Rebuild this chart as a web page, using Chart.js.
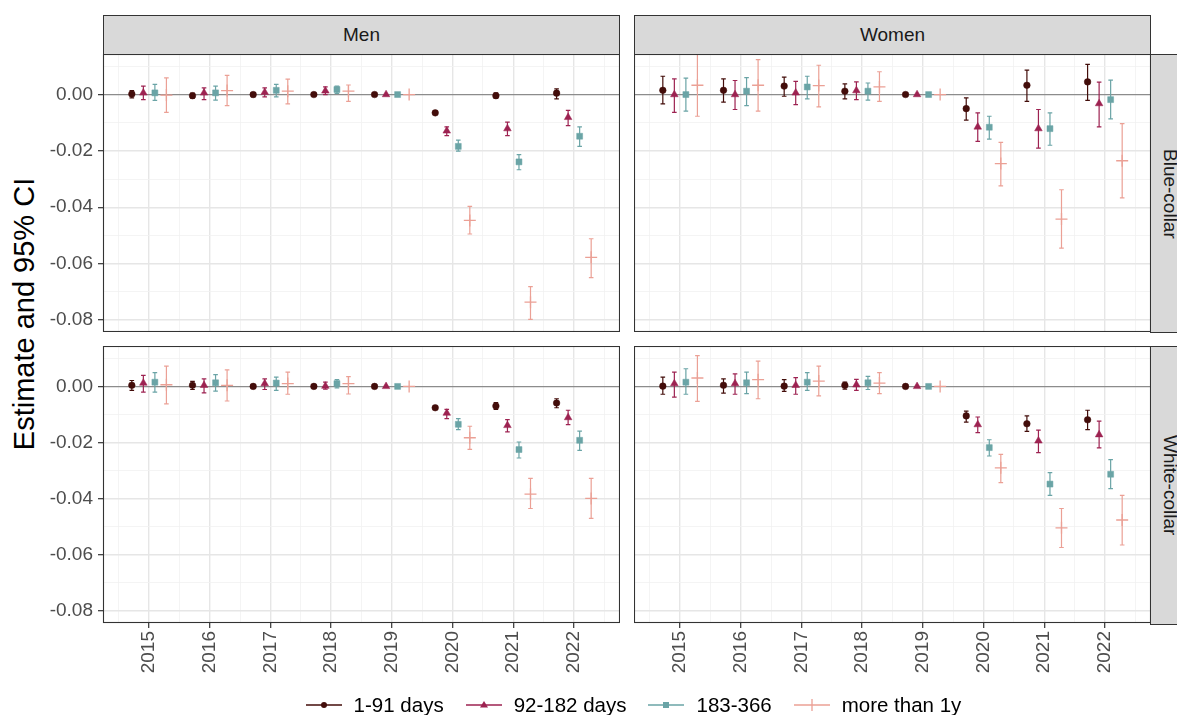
<!DOCTYPE html>
<html>
<head>
<meta charset="utf-8">
<script src="https://cdn.jsdelivr.net/npm/chart.js@4.4.1/dist/chart.umd.min.js"></script>
<style>
  html, body { margin:0; padding:0; background:#fff; }
  #wrap { position:relative; width:1177px; height:715px; overflow:hidden; font-family:'Liberation Sans', Arial, sans-serif; }
  canvas { position:absolute; }
  .strip { position:absolute; box-sizing:border-box; background:#d9d9d9; border:1px solid #333; color:#1a1a1a; font-size:19px; display:flex; align-items:center; justify-content:center; }
  .vstrip { writing-mode:vertical-rl; }
  #ytitle { position:absolute; left:24px; top:314px; transform:translate(-50%,-50%) rotate(-90deg); white-space:nowrap; font-size:29px; color:#000; }
  #legend { position:absolute; left:0; top:693px; width:1177px; height:24px; display:flex; justify-content:center; align-items:center; transform:translateX(45px); font-size:20.5px; color:#000; }
  .item { display:flex; align-items:center; margin-right:22px; }
  .item:last-child { margin-right:0; }
  .item svg { margin-right:12px; }
</style>
</head>
<body>
<div id="wrap">
  <div id="ytitle">Estimate and 95% CI</div>
  <div class="strip" id="s_men" style="left:103px; top:15px; width:517px; height:40px;"></div>
  <div class="strip" id="s_women" style="left:634px; top:15px; width:517px; height:40px;"></div>
  <div class="strip vstrip" id="s_blue" style="left:1150px; top:54px; width:40px; height:279px;"></div>
  <div class="strip vstrip" id="s_white" style="left:1150px; top:346px; width:40px; height:279px;"></div>
  <canvas id="c_mb" width="620" height="278" style="left:0; top:54px;"></canvas>
  <canvas id="c_wb" width="517" height="278" style="left:634px; top:54px;"></canvas>
  <canvas id="c_mw" width="620" height="369" style="left:0; top:346px;"></canvas>
  <canvas id="c_ww" width="517" height="369" style="left:634px; top:346px;"></canvas>
  <div id="legend"></div>
</div>
<script>
// ---------------- data ----------------
const years = [2015, 2016, 2017, 2018, 2019, 2020, 2021, 2022];
const seriesNames = ['1-91 days', '92-182 days', '183-366', 'more than 1y'];
const colLabels = ['Men', 'Women'];
const rowLabels = ['Blue-collar', 'White-collar'];
const yTickValues = [-0.08, -0.07, -0.06, -0.05, -0.04, -0.03, -0.02, -0.01, 0, 0.01];
const xTickValues = [2014.5, 2015, 2015.5, 2016, 2016.5, 2017, 2017.5, 2018, 2018.5, 2019, 2019.5, 2020, 2020.5, 2021, 2021.5, 2022, 2022.5];

// Men, Blue-collar  (rows: 1-91 days, 92-182 days, 183-366, more than 1y)
const menBlueEst = [
  [0.0002, -0.0004, 0.0000, 0.0000, 0, -0.0065, -0.0004, 0.0005],
  [0.0006, 0.0006, 0.0008, 0.0013, 0, -0.0129, -0.0121, -0.0081],
  [0.0006, 0.0006, 0.0015, 0.0018, 0, -0.0184, -0.0239, -0.0148],
  [-0.0002, 0.0014, 0.0012, 0.0012, 0, -0.0447, -0.0737, -0.0578]
];
const menBlueLo = [
  [-0.0012, -0.0013, -0.0008, -0.0004, null, -0.0071, -0.0013, -0.0015],
  [-0.0018, -0.0018, -0.0008, 0.0000, null, -0.0146, -0.0146, -0.0110],
  [-0.0021, -0.0020, -0.0008, 0.0004, null, -0.0201, -0.0267, -0.0184],
  [-0.0063, -0.0039, -0.0033, -0.0024, null, -0.0495, -0.0798, -0.0650]
];
const menBlueHi = [
  [0.0014, 0.0005, 0.0007, 0.0004, null, -0.0059, 0.0006, 0.0020],
  [0.0030, 0.0024, 0.0024, 0.0027, null, -0.0115, -0.0098, -0.0056],
  [0.0036, 0.0030, 0.0036, 0.0030, null, -0.0162, -0.0213, -0.0115],
  [0.0059, 0.0068, 0.0055, 0.0034, null, -0.0397, -0.0682, -0.0512]
];

// Women, Blue-collar
const womenBlueEst = [
  [0.0015, 0.0015, 0.0030, 0.0012, 0, -0.0050, 0.0033, 0.0045],
  [0.0000, 0.0000, 0.0006, 0.0014, 0, -0.0115, -0.0121, -0.0032],
  [0.0000, 0.0012, 0.0027, 0.0012, 0, -0.0116, -0.0121, -0.0018],
  [0.0033, 0.0033, 0.0032, 0.0027, 0, -0.0245, -0.0442, -0.0235]
];
const womenBlueLo = [
  [-0.0033, -0.0027, -0.0006, -0.0015, null, -0.0091, -0.0024, -0.0021],
  [-0.0063, -0.0053, -0.0036, -0.0018, null, -0.0166, -0.0190, -0.0115],
  [-0.0059, -0.0039, -0.0015, -0.0020, null, -0.0158, -0.0180, -0.0086],
  [-0.0077, -0.0059, -0.0044, -0.0024, null, -0.0324, -0.0545, -0.0367]
];
const womenBlueHi = [
  [0.0065, 0.0056, 0.0062, 0.0038, null, -0.0012, 0.0087, 0.0107],
  [0.0056, 0.0050, 0.0047, 0.0045, null, -0.0065, -0.0053, 0.0044],
  [0.0058, 0.0060, 0.0065, 0.0041, null, -0.0077, -0.0065, 0.0051],
  [0.0143, 0.0124, 0.0104, 0.0081, null, -0.0170, -0.0338, -0.0103]
];

// Men, White-collar
const menWhiteEst = [
  [0.0004, 0.0004, 0.0000, 0.0000, 0, -0.0076, -0.0070, -0.0059],
  [0.0012, 0.0004, 0.0010, 0.0001, 0, -0.0095, -0.0139, -0.0111],
  [0.0015, 0.0013, 0.0012, 0.0010, 0, -0.0135, -0.0225, -0.0192],
  [0.0006, 0.0004, 0.0010, 0.0010, 0, -0.0183, -0.0384, -0.0399]
];
const menWhiteLo = [
  [-0.0014, -0.0011, -0.0006, -0.0003, null, -0.0081, -0.0082, -0.0076],
  [-0.0020, -0.0023, -0.0011, -0.0010, null, -0.0115, -0.0162, -0.0136],
  [-0.0020, -0.0017, -0.0014, -0.0005, null, -0.0154, -0.0255, -0.0228],
  [-0.0062, -0.0052, -0.0028, -0.0027, null, -0.0224, -0.0435, -0.0470]
];
const menWhiteHi = [
  [0.0021, 0.0018, 0.0006, 0.0003, null, -0.0071, -0.0058, -0.0044],
  [0.0039, 0.0027, 0.0027, 0.0015, null, -0.0082, -0.0118, -0.0085],
  [0.0049, 0.0042, 0.0033, 0.0024, null, -0.0115, -0.0198, -0.0159],
  [0.0072, 0.0059, 0.0051, 0.0035, null, -0.0142, -0.0328, -0.0328]
];

// Women, White-collar
const womenWhiteEst = [
  [0.0001, 0.0004, 0.0001, 0.0004, 0, -0.0105, -0.0133, -0.0119],
  [0.0010, 0.0010, 0.0004, 0.0006, 0, -0.0136, -0.0194, -0.0172],
  [0.0015, 0.0013, 0.0015, 0.0013, 0, -0.0218, -0.0348, -0.0313],
  [0.0030, 0.0024, 0.0019, 0.0012, 0, -0.0290, -0.0504, -0.0476]
];
const womenWhiteLo = [
  [-0.0028, -0.0024, -0.0018, -0.0010, null, -0.0127, -0.0160, -0.0154],
  [-0.0038, -0.0028, -0.0028, -0.0014, null, -0.0165, -0.0236, -0.0219],
  [-0.0028, -0.0026, -0.0014, -0.0011, null, -0.0248, -0.0388, -0.0364],
  [-0.0053, -0.0044, -0.0034, -0.0026, null, -0.0343, -0.0574, -0.0565]
];
const womenWhiteHi = [
  [0.0033, 0.0027, 0.0024, 0.0015, null, -0.0088, -0.0105, -0.0085],
  [0.0051, 0.0045, 0.0031, 0.0025, null, -0.0109, -0.0156, -0.0124],
  [0.0063, 0.0051, 0.0049, 0.0036, null, -0.0190, -0.0307, -0.0261],
  [0.0110, 0.0090, 0.0072, 0.0049, null, -0.0242, -0.0435, -0.0388]
];

// ---------------- styling ----------------
const colors = ['#430d0a', '#9d2251', '#6aa4a6', '#eba095'];
const pointStyles = ['circle', 'triangle', 'rect', 'cross'];
const pointRadii = [3.3, 4.4, 4.2, 6];
const dodge = [-0.285, -0.095, 0.095, 0.285];
const FONT = "'Liberation Sans', Arial, sans-serif";

document.getElementById('s_men').textContent = colLabels[0];
document.getElementById('s_women').textContent = colLabels[1];
document.getElementById('s_blue').textContent = rowLabels[0];
document.getElementById('s_white').textContent = rowLabels[1];

const errorBarPlugin = {
  id: 'errorBars',
  beforeDatasetsDraw(chart) {
    const { ctx, chartArea: a, scales: { x, y } } = chart;
    ctx.save();
    ctx.beginPath();
    ctx.rect(a.left, a.top, a.right - a.left, a.bottom - a.top);
    ctx.clip();
    chart.data.datasets.forEach(ds => {
      ctx.strokeStyle = ds.barColor;
      ctx.lineWidth = 1.2;
      ds.data.forEach(p => {
        if (p.lo == null || p.hi == null) return;
        const px = x.getPixelForValue(p.x);
        const y1 = y.getPixelForValue(p.lo);
        const y2 = y.getPixelForValue(p.hi);
        const cap = 2.3;
        ctx.beginPath();
        ctx.moveTo(px, y1); ctx.lineTo(px, y2);
        ctx.moveTo(px - cap, y1); ctx.lineTo(px + cap, y1);
        ctx.moveTo(px - cap, y2); ctx.lineTo(px + cap, y2);
        ctx.stroke();
      });
    });
    ctx.restore();
  }
};

const borderPlugin = {
  id: 'panelBorder',
  afterDraw(chart) {
    const { ctx, chartArea: a } = chart;
    ctx.save();
    ctx.strokeStyle = '#333333';
    ctx.lineWidth = 1.1;
    ctx.strokeRect(Math.round(a.left) + 0.5, Math.round(a.top) + 0.5, Math.round(a.right - a.left) - 1, Math.round(a.bottom - a.top) - 1);
    ctx.restore();
  }
};

function isMajorY(v) { return Math.round(Math.abs(v) * 100) % 2 === 0; }
function isMajorX(v) { return Number.isInteger(v); }

function makeChart(id, est, lo, hi, showY, showX) {
  const datasets = seriesNames.map((name, s) => ({
    label: name,
    data: years.map((yr, i) => ({ x: yr + dodge[s], y: est[s][i], lo: lo[s][i], hi: hi[s][i] })),
    pointStyle: pointStyles[s],
    pointRadius: pointRadii[s],
    backgroundColor: colors[s],
    borderColor: colors[s],
    barColor: colors[s],
    borderWidth: s === 3 ? 1.3 : 0.5,
    showLine: false
  }));
  return new Chart(document.getElementById(id), {
    type: 'scatter',
    data: { datasets },
    plugins: [errorBarPlugin, borderPlugin],
    options: {
      responsive: false,
      animation: false,
      events: [],
      layout: { padding: 0, autoPadding: false },
      plugins: { legend: { display: false }, tooltip: { enabled: false } },
      scales: {
        x: {
          type: 'linear',
          min: 2014.24,
          max: 2022.76,
          afterBuildTicks: (axis) => { axis.ticks = xTickValues.map(v => ({ value: v })); },
          afterFit: (axis) => { axis.height = showX ? 92 : 0; axis.paddingLeft = 0; axis.paddingRight = 0; },
          border: { display: false },
          grid: {
            color: (c) => isMajorX(c.tick.value) ? '#e6e6e6' : '#f1f1f1',
            lineWidth: (c) => isMajorX(c.tick.value) ? 1.4 : 0.8,
            drawTicks: showX,
            tickLength: 5,
            tickWidth: 1.2,
            tickColor: (c) => isMajorX(c.tick.value) ? '#333333' : 'rgba(0,0,0,0)'
          },
          ticks: {
            display: showX,
            autoSkip: false,
            minRotation: 90,
            maxRotation: 90,
            padding: 3,
            color: '#4d4d4d',
            font: { family: FONT, size: 19 },
            callback: (v) => isMajorX(v) ? String(v) : ''
          }
        },
        y: {
          type: 'linear',
          min: -0.0843,
          max: 0.0144,
          afterBuildTicks: (axis) => { axis.ticks = yTickValues.map(v => ({ value: v })); },
          afterFit: (axis) => { axis.width = showY ? 103 : 0; axis.paddingTop = 0; axis.paddingBottom = 0; },
          border: { display: false },
          grid: {
            color: (c) => Math.abs(c.tick.value) < 1e-9 ? '#8c8c8c' : (isMajorY(c.tick.value) ? '#e6e6e6' : '#f1f1f1'),
            lineWidth: (c) => Math.abs(c.tick.value) < 1e-9 ? 1.3 : (isMajorY(c.tick.value) ? 1.4 : 0.8),
            drawTicks: showY,
            tickLength: 5,
            tickWidth: 1.2,
            tickColor: (c) => isMajorY(c.tick.value) ? '#333333' : 'rgba(0,0,0,0)'
          },
          ticks: {
            display: showY,
            padding: 5,
            color: '#4d4d4d',
            font: { family: FONT, size: 19 },
            callback: (v) => isMajorY(v) ? v.toFixed(2) : ''
          }
        }
      }
    }
  });
}

makeChart('c_mb', menBlueEst, menBlueLo, menBlueHi, true, false);
makeChart('c_wb', womenBlueEst, womenBlueLo, womenBlueHi, false, false);
makeChart('c_mw', menWhiteEst, menWhiteLo, menWhiteHi, true, true);
makeChart('c_ww', womenWhiteEst, womenWhiteLo, womenWhiteHi, false, true);

// ---------------- legend ----------------
function markerSvg(s) {
  const c = colors[s];
  let m = '';
  if (s === 0) m = `<circle cx="18" cy="7" r="3" fill="${c}"/>`;
  if (s === 1) m = `<polygon points="18,3 22,9.5 14,9.5" fill="${c}"/>`;
  if (s === 2) m = `<rect x="15" y="4" width="6" height="6" fill="${c}"/>`;
  if (s === 3) m = `<line x1="18" y1="1" x2="18" y2="13" stroke="${c}" stroke-width="1.3"/>`;
  return `<svg width="36" height="14" viewBox="0 0 36 14"><line x1="0" y1="7" x2="36" y2="7" stroke="${c}" stroke-width="1.5"/>${m}</svg>`;
}
const legend = document.getElementById('legend');
seriesNames.forEach((name, s) => {
  const it = document.createElement('div');
  it.className = 'item';
  it.innerHTML = markerSvg(s) + '<span>' + name + '</span>';
  legend.appendChild(it);
});
</script>
</body>
</html>
